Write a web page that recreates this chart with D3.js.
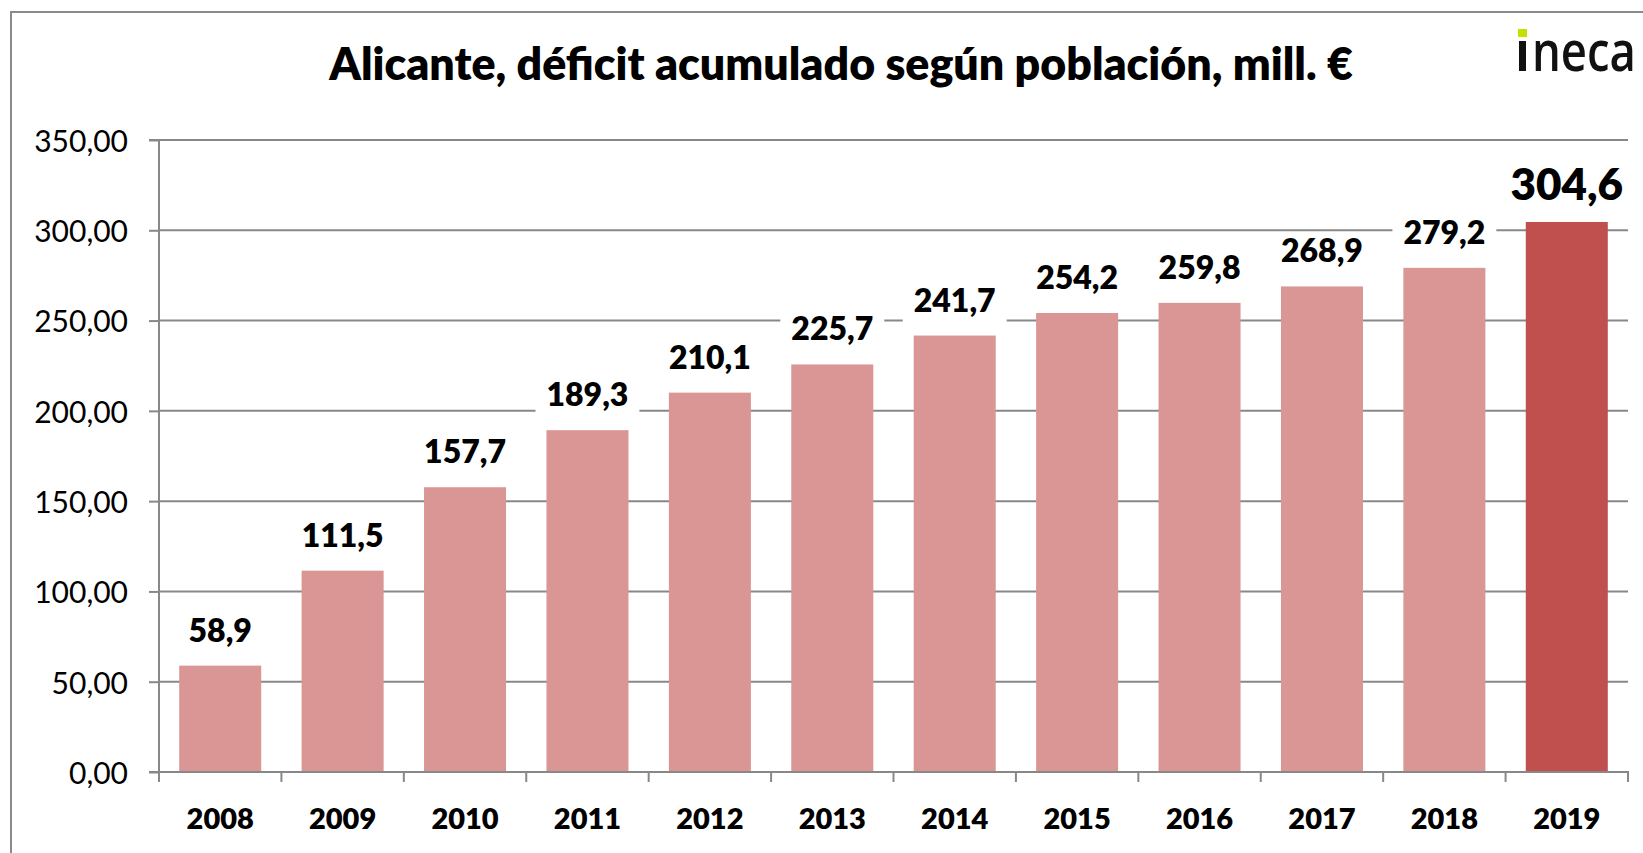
<!DOCTYPE html>
<html>
<head>
<meta charset="utf-8">
<script src="https://cdn.jsdelivr.net/npm/d3@7"></script>
<style>
  html, body { margin: 0; padding: 0; background: #fff; }
  svg { display: block; }
</style>
</head>
<body>
<svg id="chart" width="1643" height="853"></svg>
<script>
// ---- data ----
const years = ["2008","2009","2010","2011","2012","2013","2014","2015","2016","2017","2018","2019"];
const deficit = [58.9, 111.5, 157.7, 189.3, 210.1, 225.7, 241.7, 254.2, 259.8, 268.9, 279.2, 304.6];
const yTicks = [0, 50, 100, 150, 200, 250, 300, 350];
const titleText = "Alicante, déficit acumulado según población, mill. €";
const logoText = "neca";

// ---- setup ----
const svg = d3.select("#chart");
const W = 1643, H = 853;
const margin = { left: 159, right: W - 1628, top: 140, bottom: H - 772 };
const gridColor = "#888888";
const barColor = "#D99694";
const lastColor = "#C0504D";
const font = "Lato, 'Open Sans', sans-serif";

const loc = d3.formatLocale({ decimal: ",", thousands: ".", grouping: [3], currency: ["", "€"] });
const fmtTick = loc.format(".2f");
const fmtLabel = loc.format(".1f");

const x = d3.scaleBand().domain(years).range([margin.left, W - margin.right]).paddingInner(0.33).paddingOuter(0.165);
const y = d3.scaleLinear().domain([0, 350]).range([H - margin.bottom, margin.top]);

// frame
svg.append("path")
  .attr("d", `M11,${H + 5} L11,12 L${W + 5},12`)
  .attr("fill", "none").attr("stroke", "#8a8a8a").attr("stroke-width", 2);

// gridlines
svg.append("g").selectAll("line").data(yTicks.filter(d => d > 0)).join("line")
  .attr("x1", margin.left).attr("x2", W - margin.right)
  .attr("y1", d => y(d)).attr("y2", d => y(d))
  .attr("stroke", gridColor).attr("stroke-width", 2);

// bars
svg.append("g").selectAll("rect").data(years).join("rect")
  .attr("x", d => x(d)).attr("width", x.bandwidth())
  .attr("y", (d, i) => y(deficit[i])).attr("height", (d, i) => y(0) - y(deficit[i]))
  .attr("fill", (d, i) => i === years.length - 1 ? lastColor : barColor);

// y axis
const yAxis = d3.axisLeft(y).tickValues(yTicks).tickSize(10).tickPadding(21).tickFormat(fmtTick);
const gy = svg.append("g").attr("transform", `translate(${margin.left},0)`).call(yAxis);
gy.select(".domain").attr("stroke", gridColor).attr("stroke-width", 2).attr("d", `M-10,${y(350)}H0V${y(0)}`);
gy.selectAll(".tick line").attr("stroke", gridColor).attr("stroke-width", 2);
gy.selectAll(".tick text").attr("font-family", font).attr("font-size", 30).attr("fill", "#000").attr("dy", "0.38em");

// x axis: tick marks at category boundaries
const boundaries = d3.range(years.length + 1).map(i => margin.left + i * x.step());
const gx = svg.append("g");
gx.append("line").attr("x1", margin.left - 10).attr("x2", W - margin.right + 1)
  .attr("y1", y(0)).attr("y2", y(0)).attr("stroke", gridColor).attr("stroke-width", 2);
gx.selectAll("line.tk").data(boundaries).join("line").attr("class", "tk")
  .attr("x1", d => d).attr("x2", d => d).attr("y1", y(0)).attr("y2", y(0) + 10)
  .attr("stroke", gridColor).attr("stroke-width", 2);
gx.selectAll("text").data(years).join("text")
  .attr("x", d => x(d) + x.bandwidth() / 2).attr("y", 829)
  .attr("text-anchor", "middle").attr("font-family", font).attr("font-weight", 800)
  .attr("font-size", 29).attr("fill", "#000").text(d => d);

// data labels with white boxes
const lg = svg.append("g");
years.forEach((yr, i) => {
  const last = i === years.length - 1;
  const fs = last ? 44 : 32;
  const cx = x(yr) + x.bandwidth() / 2;
  const base = y(deficit[i]) - (last ? 22 : 24);
  const g = lg.append("g");
  const rect = g.append("rect").attr("fill", "#fff");
  const t = g.append("text").attr("x", cx).attr("y", base).attr("text-anchor", "middle")
    .attr("font-family", font).attr("font-weight", 800).attr("font-size", fs).attr("fill", "#000")
    .text(fmtLabel(deficit[i]));
  const w = t.node().getComputedTextLength();
  rect.attr("x", cx - w / 2 - 11).attr("width", w + 22)
    .attr("y", base - fs * 0.72 - 6).attr("height", fs * 0.72 + 18);
});

// title, sized to span the reference width
const title = svg.append("text").attr("x", 841).attr("y", 80).attr("text-anchor", "middle")
  .attr("font-family", font).attr("font-weight", 800).attr("font-size", 34).attr("fill", "#000")
  .text(titleText);
const tw = title.node().getComputedTextLength();
title.attr("font-size", 34 * 1024 / tw);

// logo: fitted inside the page, stretched vertically to match letter height
const logo = svg.append("g");
logo.append("rect").attr("x", 1519).attr("y", 41).attr("width", 7).attr("height", 30).attr("fill", "#111");
logo.append("rect").attr("x", 1518).attr("y", 29).attr("width", 9).attr("height", 8).attr("fill", "#c6e000");
const lt = logo.append("text").attr("x", 0).attr("y", 0).attr("font-family", "'Open Sans', sans-serif")
  .attr("font-size", 54).attr("font-weight", 600).attr("fill", "#111").text(logoText);
const lw = lt.node().getComputedTextLength();
const lfs = 54 * 104 / lw;
lt.attr("font-size", lfs)
  .attr("transform", `translate(1532,71) scale(1,${30 / (0.535 * lfs)})`);
</script>
</body>
</html>
